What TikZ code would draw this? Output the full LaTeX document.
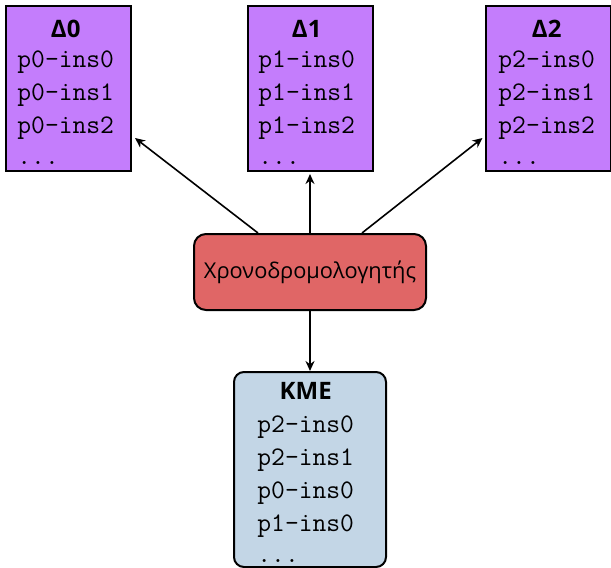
\documentclass[tikz,border=0pt]{standalone}
\usepackage{fontspec}
\setmainfont{Open Sans}
\usetikzlibrary{arrows.meta,calc}
\definecolor{procpurple}{HTML}{C47DFC}
\definecolor{schedred}{HTML}{E06666}
\definecolor{kmeblue}{HTML}{C3D6E6}
\newcommand{\boxtitle}[1]{\multicolumn{1}{@{}c@{}}{\fontsize{12}{16.5}\selectfont\rmfamily\bfseries #1}}
\begin{document}
\begin{tikzpicture}[x=0.5pt,y=-0.5pt,
  pbox/.style={draw=black, line width=1pt, fill=procpurple, minimum width=62.5pt, minimum height=82.5pt, inner sep=0pt},
  sched/.style={draw=black, line width=1pt, fill=schedred, rounded corners=6pt, minimum width=116pt, minimum height=38pt, inner sep=0pt, font=\fontsize{10.9}{13}\selectfont},
  kme/.style={draw=black, line width=1pt, fill=kmeblue, rounded corners=5pt, minimum width=76pt, minimum height=97.5pt, inner sep=0pt},
  lines/.style={anchor=base west, inner sep=0pt, font=\fontsize{13.4}{16.5}\ttfamily},
  arr/.style={-{Stealth[length=5pt,width=4.5pt]}, line width=0.8pt}
]
\useasboundingbox (0,0) rectangle (611,568);
\node[pbox] (d0) at (68.5,88.5) {};
\node[pbox] (d1) at (310,88.5) {};
\node[pbox] (d2) at (548,88.5) {};
\node[sched] (s) at (310,272) {Χρονοδρομολογητής};
\node[kme] (k) at (310,469.5) {};
\node[lines] (t0) at (17,37) {\begin{tabular}[t]{@{}l@{}}\boxtitle{Δ0}\\[-1.5pt] p0-ins0\\ p0-ins1\\ p0-ins2\\[-1pt] ...\end{tabular}};
\node[lines] (t1) at (258,37) {\begin{tabular}[t]{@{}l@{}}\boxtitle{Δ1}\\[-1.5pt] p1-ins0\\ p1-ins1\\ p1-ins2\\[-1pt] ...\end{tabular}};
\node[lines] (t2) at (498,37) {\begin{tabular}[t]{@{}l@{}}\boxtitle{Δ2}\\[-1.5pt] p2-ins0\\ p2-ins1\\ p2-ins2\\[-1pt] ...\end{tabular}};
\node[lines] (tk) at (257,399) {\begin{tabular}[t]{@{}l@{}}\boxtitle{KME}\\ p2-ins0\\ p2-ins1\\ p0-ins0\\ p1-ins0\\[-1pt] ...\end{tabular}};
\draw[arr] ($(s.north)+(-52,0)$) -- ($(d0.east)+(3,49.5)$);
\draw[arr] (s.north) -- ($(d1.south)+(0,2)$);
\draw[arr] ($(s.north)+(52,0)$) -- ($(d2.west)+(-2,49.5)$);
\draw[arr] (s.south) -- (k.north);
\end{tikzpicture}
\end{document}
